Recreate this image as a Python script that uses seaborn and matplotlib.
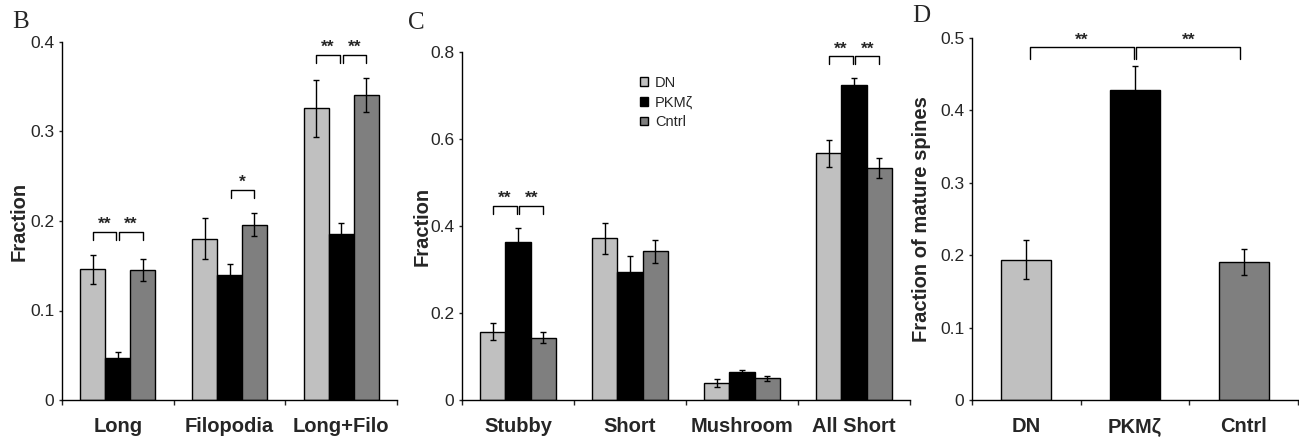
import matplotlib
matplotlib.use("Agg")
import matplotlib.pyplot as plt
import pandas as pd
import seaborn as sns
from matplotlib.ticker import FixedLocator, FuncFormatter

groups = ["DN", "PKMζ", "Cntrl"]
colors = ["#c0c0c0", "#000000", "#7f7f7f"]

# panel B: long / filopodia spines
b_cats = ["Long", "Filopodia", "Long+Filo"]
b_dn = [0.146, 0.180, 0.326]
b_pkm = [0.047, 0.140, 0.185]
b_cntrl = [0.145, 0.196, 0.341]
b_dn_err = [0.016, 0.023, 0.032]
b_pkm_err = [0.007, 0.012, 0.013]
b_cntrl_err = [0.012, 0.013, 0.019]
b_sig = [("Long", 0, 1, "**"), ("Long", 1, 2, "**"), ("Filopodia", 1, 2, "*"),
         ("Long+Filo", 0, 1, "**"), ("Long+Filo", 1, 2, "**")]

# panel C: short spines
c_cats = ["Stubby", "Short", "Mushroom", "All Short"]
c_dn = [0.157, 0.372, 0.039, 0.567]
c_pkm = [0.364, 0.295, 0.064, 0.723]
c_cntrl = [0.143, 0.342, 0.050, 0.534]
c_dn_err = [0.019, 0.036, 0.009, 0.031]
c_pkm_err = [0.032, 0.037, 0.005, 0.017]
c_cntrl_err = [0.013, 0.026, 0.006, 0.023]
c_sig = [("Stubby", 0, 1, "**"), ("Stubby", 1, 2, "**"),
         ("All Short", 0, 1, "**"), ("All Short", 1, 2, "**")]

# panel D: mature spines
d_vals = [0.194, 0.428, 0.191]
d_err = [0.027, 0.034, 0.018]
d_sig = [(0, 1, "**"), (1, 2, "**")]

sns.set_style("white")
plt.rcParams["font.family"] = ["Liberation Sans", "DejaVu Sans"]

W, H = 1299, 437
fig = plt.figure(figsize=(W / 100, H / 100), dpi=100)


def px_axes(left, top, right, bottom):
    return fig.add_axes([left / W, 1 - bottom / H, (right - left) / W, (bottom - top) / H])


def style_axis(ax, ncat, ymax, ystep, ylabel, label_x):
    ax.set_ylim(0, ymax)
    ax.set_xlim(-0.5, ncat - 0.5)
    ax.yaxis.set_major_locator(FixedLocator([i * ystep for i in range(int(round(ymax / ystep)) + 1)]))
    ax.yaxis.set_major_formatter(FuncFormatter(lambda v, p: "0" if v == 0 else f"{v:g}"))
    ax.xaxis.set_minor_locator(FixedLocator([i - 0.5 for i in range(ncat + 1)]))
    ax.tick_params(axis="x", which="major", length=0, pad=12, labelsize=14.5)
    ax.tick_params(axis="x", which="minor", length=3.5, width=1, direction="out", bottom=True)
    ax.tick_params(axis="y", length=2.5, width=1, direction="out", left=True, pad=3, labelsize=12.5)
    for lab in ax.get_xticklabels():
        lab.set_fontweight("bold")
    for s in ["top", "right"]:
        ax.spines[s].set_visible(False)
    for s in ["left", "bottom"]:
        ax.spines[s].set_color("black")
        ax.spines[s].set_linewidth(1)
    ax.set_xlabel("")
    ax.set_ylabel(ylabel, fontsize=14.5, fontweight="bold")
    ax.yaxis.set_label_coords(label_x, 0.5)


def bracket(ax, xa, xb, y, drop, label):
    ax.plot([xa, xa, xb, xb], [y - drop, y, y, y - drop], color="black", lw=1, zorder=6)
    ax.annotate(label, xy=((xa + xb) / 2, y), xytext=(0, 2), textcoords="offset points",
                ha="center", va="baseline", fontsize=12.5, fontweight="bold")


def grouped_panel(ax, cats, means, errs, sig, ymax, ystep, off, drop, ylabel, label_x, legend):
    df = pd.DataFrame({
        "cat": [c for g in groups for c in cats],
        "grp": [g for g in groups for c in cats],
        "val": [v for m in means for v in m],
    })
    sns.barplot(data=df, x="cat", y="val", hue="grp", order=cats, hue_order=groups,
                palette=colors, saturation=1, width=0.67, edgecolor="black", linewidth=1,
                errorbar=None, legend=legend, ax=ax)
    bars = [list(cont) for cont in ax.containers]
    centers = [[b.get_x() + b.get_width() / 2 for b in cont] for cont in bars]
    for i in range(len(groups)):
        ax.errorbar(centers[i], means[i], yerr=errs[i], fmt="none", ecolor="black",
                    elinewidth=1, capsize=2.5, capthick=1, zorder=5)
    for cat, a, b, label in sig:
        k = cats.index(cat)
        top = max(means[i][k] + errs[i][k] for i in range(len(groups))) + off
        xa = centers[a][k] + (0.012 if a == 1 else 0)
        xb = centers[b][k] - (0.012 if b == 1 else 0)
        bracket(ax, xa, xb, top, drop, label)
    style_axis(ax, len(cats), ymax, ystep, ylabel, label_x)


ax_b = px_axes(62, 42, 397, 400)
grouped_panel(ax_b, b_cats, [b_dn, b_pkm, b_cntrl], [b_dn_err, b_pkm_err, b_cntrl_err],
              b_sig, 0.4, 0.1, 0.026, 0.009, "Fraction", -0.1, False)

ax_c = px_axes(462, 52, 910, 400)
grouped_panel(ax_c, c_cats, [c_dn, c_pkm, c_cntrl], [c_dn_err, c_pkm_err, c_cntrl_err],
              c_sig, 0.8, 0.2, 0.05, 0.018, "Fraction", -0.068, True)
sns.move_legend(ax_c, "upper left", bbox_to_anchor=(0.367, 0.97), frameon=False, title=None,
                fontsize=10.5, handlelength=0.55, handleheight=0.55, handletextpad=0.5,
                labelspacing=0.4)

ax_d = px_axes(972, 38, 1298, 400)
sns.barplot(x=groups, y=d_vals, hue=groups, palette=colors, saturation=1, width=0.46,
            edgecolor="black", linewidth=1, errorbar=None, legend=False, ax=ax_d)
d_bars = [b for cont in ax_d.containers for b in cont]
d_centers = [b.get_x() + b.get_width() / 2 for b in d_bars]
ax_d.errorbar(d_centers, d_vals, yerr=d_err, fmt="none", ecolor="black",
              elinewidth=1, capsize=2.5, capthick=1, zorder=5)
d_top = max(v + e for v, e in zip(d_vals, d_err)) + 0.025
for a, b, label in d_sig:
    xa = d_centers[a] + (0.012 if a == 1 else 0.03)
    xb = d_centers[b] - (0.012 if b == 1 else 0.03)
    bracket(ax_d, xa, xb, d_top, 0.016, label)
style_axis(ax_d, len(groups), 0.5, 0.1, "Fraction of mature spines", -0.125)

for letter, x, y in [("B", 12, 28), ("C", 408, 29), ("D", 912, 22)]:
    fig.text(x / W, 1 - y / H, letter, family="Liberation Serif", fontsize=18,
             ha="left", va="baseline")

fig.savefig("out.png", dpi=100, facecolor="white")
